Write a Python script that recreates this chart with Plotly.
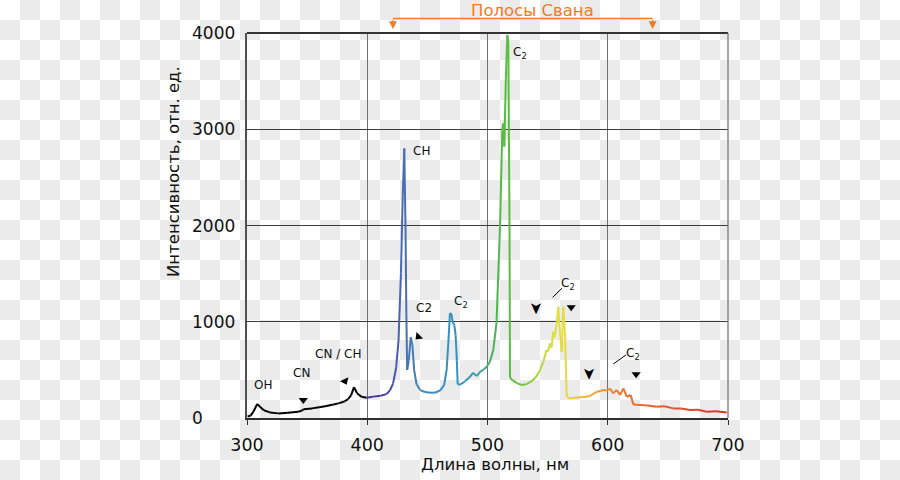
import base64
import numpy as np
import plotly.graph_objects as go

# ---------------- data ----------------
wavelength = [300.5, 303, 305.5, 308.5, 311, 314, 319, 326, 334, 342.5, 345.5, 347, 354, 360, 365,
              371, 376, 381, 384, 386.5, 389, 391.5, 395, 399.5, 405, 411, 416, 419, 421.5, 424,
              426, 428, 429.5, 430.8, 431.8, 432.5, 433.2, 434.5, 436.2, 437.5, 439, 441, 444, 448,
              453, 457, 461, 464, 466, 467.5, 468.8, 470, 471, 472.5, 473.5, 474.5, 475.2, 477, 481,
              485, 488, 491, 494, 496.5, 499.3, 502, 504.8, 507.5, 510.4, 512.3, 513.2, 514, 515.2,
              516.5, 517.3, 518.3, 518.7, 521, 525, 528.5, 532, 536.5, 540, 543, 546.5, 549, 550.3,
              552, 553.2, 554.7, 555.8, 557.6, 558.9, 560.3, 561.7, 563, 564.5, 565.9, 568.6, 572,
              577, 581, 585, 588, 590.8, 594, 596.3, 599, 601.9, 604.6, 607.4, 610.2, 613, 615.8,
              619, 621.3, 626.8, 633, 640.7, 647, 654.5, 661, 668.4, 675, 682.3, 690, 699]
intensity = [15, 25, 70, 145, 115, 80, 58, 48, 55, 65, 75, 92, 100, 112, 122,
             138, 152, 172, 195, 235, 320, 258, 222, 210, 222, 232, 248, 290, 360, 520,
             800, 1500, 2300, 2800, 2000, 1100, 500, 600, 840, 760, 500, 350, 290, 270,
             262, 265, 290, 345, 500, 800, 1090, 1080, 1000, 960, 860, 600, 350, 345, 378,
             423, 470, 436, 481, 500, 533, 585, 706, 990, 1990, 2990, 3060, 2820, 3500,
             3980, 3900, 2000, 420, 390, 360, 343, 350, 380, 420, 480, 585, 706, 690,
             776, 730, 897, 840, 984, 1157, 880, 689, 1157, 845, 221, 204, 210,
             215, 218, 228, 250, 273, 280, 291, 285, 305, 256, 291, 239, 308, 221,
             239, 140, 135, 130, 118, 122, 100, 98, 83, 85, 66, 70, 56]

x_ticks = [300, 400, 500, 600, 700]
y_ticks = [0, 1000, 2000, 3000, 4000]
x_title = "Длина волны, нм"
y_title = "Интенсивность, отн. ед."
swan_label = "Полосы Свана"
swan_range = [421.4, 637.3]

labels_text = ["OH", "CN", "CN / CH", "CH", "C2", "C<sub>2</sub>", "C<sub>2</sub>", "C<sub>2</sub>", "C<sub>2</sub>"]
labels_x = [313.6, 345.5, 375.4, 444.7, 447.4, 477.7, 527.0, 567.2, 620.7]
labels_y = [343, 464, 662, 2777, 1140, 1208, 3789, 1392, 665]

arrow_x = [346.8, 381.5, 442.5, 569.6, 623.6]
arrow_y = [187, 384, 845, 1150, 454]
arrow_angle = [0, -25, 45, 0, 0]

chevron_x = [541.0, 584.6]
chevron_y = [1140, 464]

leaders = [((554.2, 1254), (561.9, 1348)), ((604.6, 561), (615.2, 655))]

# ---------------- colours ----------------
stops = [(300, "#000000"), (398, "#000000"), (401, "#3b2f90"), (418, "#4a44a4"),
         (428, "#4a68b0"), (436, "#4678b6"), (448, "#3a8cc0"), (478, "#3592c0"),
         (492, "#3a9ca4"), (502, "#46ae68"), (512, "#55bb45"), (525, "#62c03a"),
         (537, "#94cd3c"), (548, "#c8db3c"), (556, "#e0e03e"), (566, "#e8d840"),
         (578, "#f0bc3a"), (592, "#f09a34"), (608, "#ee7a30"), (640, "#e65e2e"),
         (700, "#d8302a")]


def hex2rgb(h):
    return np.array([int(h[i:i + 2], 16) for i in (1, 3, 5)], dtype=float)


def color_at(w):
    for (w0, c0), (w1, c1) in zip(stops[:-1], stops[1:]):
        if w0 <= w <= w1:
            t = (w - w0) / (w1 - w0) if w1 > w0 else 0
            c = hex2rgb(c0) * (1 - t) + hex2rgb(c1) * t
            return "rgb(%d,%d,%d)" % tuple(c.round())
    return stops[-1][1]


fig = go.Figure()

for i in range(len(wavelength) - 1):
    xm = 0.5 * (wavelength[i] + wavelength[i + 1])
    fig.add_trace(go.Scatter(x=wavelength[i:i + 2], y=intensity[i:i + 2], mode="lines",
                             line=dict(color=color_at(xm), width=2),
                             hoverinfo="skip", showlegend=False))

# small arrow markers
fig.add_trace(go.Scatter(x=arrow_x, y=arrow_y, mode="markers",
                         marker=dict(symbol="triangle-down", angle=arrow_angle, size=8,
                                     color="black", line=dict(width=0)),
                         hoverinfo="skip", showlegend=False))

PW, PH = 481, 385
annotations = []
for t, x, y in zip(labels_text, labels_x, labels_y):
    annotations.append(dict(x=x, y=y, xref="x", yref="y", text=t, showarrow=False,
                            xanchor="center", yanchor="middle",
                            font=dict(family="DejaVu Sans", size=12, color="#111111")))

# chevron arrowheads
for x, y in zip(chevron_x, chevron_y):
    annotations.append(dict(x=x, y=y, xref="x", yref="y", text="➤", showarrow=False,
                            textangle=90, xanchor="center", yanchor="middle",
                            font=dict(family="DejaVu Sans", size=16, color="black")))

# y tick labels (left aligned, as in the reference)
for v in y_ticks:
    annotations.append(dict(x=(190 - 247) / PW, y=v, xref="paper", yref="y", text=str(v),
                            showarrow=False, xanchor="left", yanchor="middle",
                            font=dict(family="DejaVu Sans", size=17, color="#111111")))

shapes = []
for (a, b) in leaders:
    shapes.append(dict(type="line", xref="x", yref="y", x0=a[0], y0=a[1], x1=b[0], y1=b[1],
                       line=dict(color="black", width=1)))

# plot frame
shapes.append(dict(type="line", xref="paper", yref="paper", x0=0, x1=1, y0=1, y1=1,
                   line=dict(color="#333333", width=2)))
shapes.append(dict(type="line", xref="paper", yref="paper", x0=1, x1=1, y0=0, y1=1,
                   line=dict(color="#777777", width=1.3)))

# Swan bands bracket
orange = "#f57a21"
y_br = 1 + (33 - 18.5) / PH
y_tip = 1 + (33 - 29) / PH
shapes.append(dict(type="line", xref="x", yref="paper", x0=swan_range[0], x1=swan_range[1],
                   y0=y_br, y1=y_br, line=dict(color=orange, width=1.3)))
for xv in swan_range:
    annotations.append(dict(x=xv, y=y_tip, xref="x", yref="paper", ax=0, ay=-10.5,
                            axref="pixel", ayref="pixel", text="", showarrow=True,
                            arrowhead=2, arrowsize=1.2, arrowwidth=1.3, arrowcolor=orange))
annotations.append(dict(x=(532 - 247) / PW, y=1 + (33 - 10) / PH, xref="paper", yref="paper",
                        text=swan_label, showarrow=False, xanchor="center", yanchor="middle",
                        font=dict(family="DejaVu Sans", size=16.5, color=orange)))

# axis titles
annotations.append(dict(x=(495 - 247) / PW, y=-(464 - 418) / PH, xref="paper", yref="paper",
                        text=x_title, showarrow=False, xanchor="center", yanchor="middle",
                        font=dict(family="DejaVu Sans", size=16.5, color="#111111")))
annotations.append(dict(x=-(247 - 173) / PW, y=(418 - 172) / PH, xref="paper", yref="paper",
                        text=y_title, showarrow=False, textangle=-90,
                        xanchor="center", yanchor="middle",
                        font=dict(family="DejaVu Sans", size=16.5, color="#111111")))

# checkerboard background
svg = ('<svg xmlns="http://www.w3.org/2000/svg" width="900" height="480">'
       '<defs><pattern id="p" width="40" height="40" patternUnits="userSpaceOnUse">'
       '<rect width="40" height="40" fill="#ffffff"/>'
       '<rect x="20" y="0" width="20" height="20" fill="#ebebeb"/>'
       '<rect x="0" y="20" width="20" height="20" fill="#ebebeb"/>'
       '</pattern></defs><rect width="900" height="480" fill="url(#p)"/></svg>')
src = "data:image/svg+xml;base64," + base64.b64encode(svg.encode()).decode()

fig.update_layout(
    width=900, height=480, autosize=False,
    margin=dict(l=247, r=172, t=33, b=62, pad=0),
    paper_bgcolor="white", plot_bgcolor="rgba(0,0,0,0)",
    font=dict(family="DejaVu Sans", color="#111111"),
    showlegend=False,
    annotations=annotations, shapes=shapes,
    images=[dict(source=src, xref="paper", yref="paper", x=-247 / PW, y=1 + 33 / PH,
                 sizex=900 / PW, sizey=480 / PH, xanchor="left", yanchor="top",
                 sizing="stretch", layer="below")],
    xaxis=dict(range=[300, 700], tickvals=x_ticks, showgrid=True, gridcolor="#707070",
               gridwidth=1.2, showline=True, linecolor="#303030", linewidth=2,
               ticks="outside", ticklen=5, tickcolor="#303030", zeroline=False,
               tickfont=dict(size=17.5, family="DejaVu Sans", color="#111111"),
               ticklabelstandoff=5, fixedrange=True),
    yaxis=dict(range=[0, 4000], tickvals=y_ticks, showgrid=True, gridcolor="#3a3a3a",
               gridwidth=1, showline=True, linecolor="#505050", linewidth=1.5,
               ticks="", zeroline=False, showticklabels=False, fixedrange=True),
)

fig.write_html("out.html")
